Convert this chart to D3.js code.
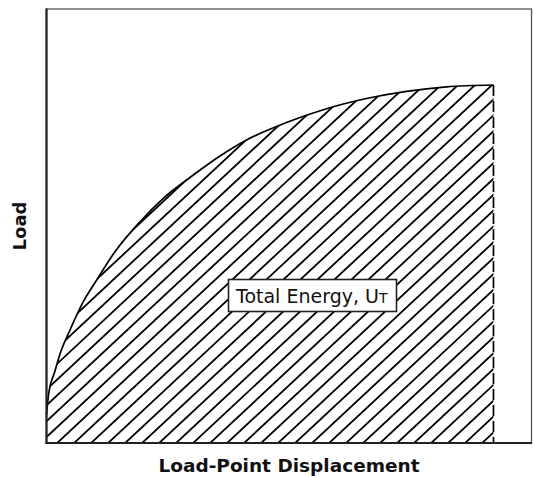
<!DOCTYPE html>
<html>
<head>
<meta charset="utf-8">
<script src="https://cdn.jsdelivr.net/npm/d3@7"></script>
<style>
  body { margin: 0; background: #fff; }
  svg { display: block; }
</style>
</head>
<body>
<div id="chart"></div>
<script>
// load-displacement curve (both axes 0..100)
var dispValues = [0, 0.41, 1.75, 2.78, 4.85, 7.59, 10.35, 14.12, 19.28, 24.08, 30.27, 35.77, 41.24, 49.48, 57.73, 65.98, 74.23, 82.47, 92.16];
var loadValues = [6.45, 11.06, 16.59, 20.51, 26.04, 32.56, 37.56, 44.08, 50.99, 56.38, 61.75, 66.13, 69.82, 73.85, 77.03, 79.38, 81.04, 82.07, 82.49];
var xLabel = "Load-Point Displacement";
var yLabel = "Load";
var areaLabel = "Total Energy, U";
var areaSub = "T";

var width = 533, height = 477;
var plotLeft = 46.5, plotRight = 531.5, plotTop = 9, plotBottom = 443;

var points = dispValues.map(function(d, i) { return { x: d, y: loadValues[i] }; });

var x = d3.scaleLinear().domain([0, 100]).range([plotLeft, plotRight]);
var y = d3.scaleLinear().domain([0, 100]).range([plotBottom, plotTop]);

var svg = d3.select("#chart").append("svg")
    .attr("width", width)
    .attr("height", height);

// area under curve as clip for the hatching
var area = d3.area()
    .x(function(d) { return x(d.x); })
    .y0(y(0))
    .y1(function(d) { return y(d.y); })
    .curve(d3.curveMonotoneX);

svg.append("clipPath").attr("id", "under")
  .append("path")
    .datum(points)
    .attr("d", area);

// hatch lines "/" at roughly 43 degrees
var spacing = 17, angle = 43 * Math.PI / 180;
var rise = plotBottom - plotTop;
var run = rise / Math.tan(angle);
var hatch = d3.range(-30, 30).map(function(k) { return 55 + k * spacing; });

svg.append("g")
    .attr("clip-path", "url(#under)")
  .selectAll("line")
  .data(hatch)
  .enter().append("line")
    .attr("x1", function(d) { return d; })
    .attr("y1", plotBottom + 2)
    .attr("x2", function(d) { return d + run; })
    .attr("y2", plotBottom + 2 - rise)
    .attr("stroke", "#000")
    .attr("stroke-width", 1.8);

// frame
svg.append("rect")
    .attr("x", plotLeft)
    .attr("y", plotTop)
    .attr("width", plotRight - plotLeft)
    .attr("height", plotBottom - plotTop)
    .attr("fill", "none")
    .attr("stroke", "#555")
    .attr("stroke-width", 1.3);

// curve
var line = d3.line()
    .x(function(d) { return x(d.x); })
    .y(function(d) { return y(d.y); })
    .curve(d3.curveMonotoneX);

svg.append("path")
    .datum(points)
    .attr("d", line)
    .attr("fill", "none")
    .attr("stroke", "#000")
    .attr("stroke-width", 1.7);

// dashed end line
var last = points[points.length - 1];
svg.append("line")
    .attr("x1", x(last.x))
    .attr("y1", y(last.y))
    .attr("x2", x(last.x))
    .attr("y2", y(0))
    .attr("stroke", "#000")
    .attr("stroke-width", 1.7)
    .attr("stroke-dasharray", "11,5");

// axes (left and bottom, heavier)
svg.append("line")
    .attr("x1", plotLeft).attr("y1", plotTop - 0.5)
    .attr("x2", plotLeft).attr("y2", plotBottom + 1)
    .attr("stroke", "#222").attr("stroke-width", 2.2);
svg.append("line")
    .attr("x1", plotLeft - 1).attr("y1", plotBottom)
    .attr("x2", plotRight + 0.5).attr("y2", plotBottom)
    .attr("stroke", "#222").attr("stroke-width", 2.2);

// label box
var lab = svg.append("g");
lab.append("rect")
    .attr("x", 228.5)
    .attr("y", 279.5)
    .attr("width", 168)
    .attr("height", 32)
    .attr("fill", "#fff")
    .attr("stroke", "#222")
    .attr("stroke-width", 1.6);
var t = lab.append("text")
    .attr("x", 236)
    .attr("y", 302.5)
    .attr("font-family", "DejaVu Sans, Verdana, sans-serif")
    .attr("font-size", 19)
    .attr("fill", "#111")
    .text(areaLabel);
t.append("tspan")
    .attr("font-size", 14)
    .text(areaSub);

// axis titles
svg.append("text")
    .attr("x", (plotLeft + plotRight) / 2)
    .attr("y", 472)
    .attr("text-anchor", "middle")
    .attr("font-family", "DejaVu Sans, Verdana, sans-serif")
    .attr("font-weight", "bold")
    .attr("font-size", 18.5)
    .attr("fill", "#111")
    .text(xLabel);

svg.append("text")
    .attr("transform", "translate(26," + ((plotTop + plotBottom) / 2) + ") rotate(-90)")
    .attr("text-anchor", "middle")
    .attr("font-family", "DejaVu Sans, Verdana, sans-serif")
    .attr("font-weight", "bold")
    .attr("font-size", 18)
    .attr("fill", "#111")
    .text(yLabel);
</script>
</body>
</html>
